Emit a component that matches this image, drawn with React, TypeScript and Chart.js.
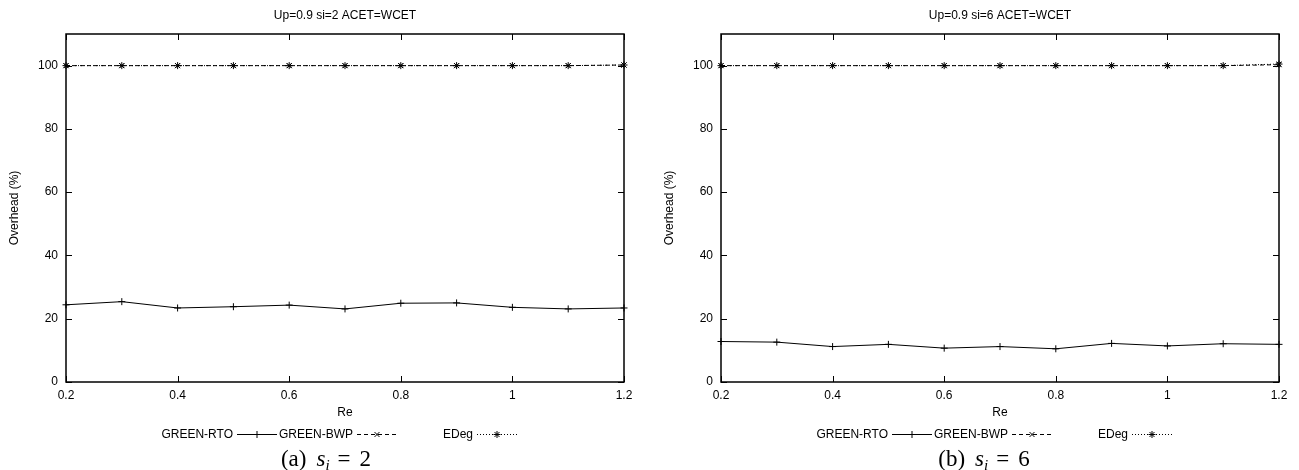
import React, { useEffect, useRef } from "react";
import { Chart, registerables } from "chart.js";

Chart.register(...registerables);

// ---------- data ----------
const reValues = [0.2, 0.3, 0.4, 0.5, 0.6, 0.7, 0.8, 0.9, 1.0, 1.1, 1.2];
const xTicks = [0.2, 0.4, 0.6, 0.8, 1, 1.2];
const xTickLabels = ["0.2", "0.4", "0.6", "0.8", "1", "1.2"];
const yTicks = [0, 20, 40, 60, 80, 100];
const yTickLabels = ["0", "20", "40", "60", "80", "100"];
const seriesNames = ["GREEN-RTO", "GREEN-BWP", "EDeg"];

const titleA = "Up=0.9 si=2 ACET=WCET";
const rtoA = [24.4, 25.4, 23.4, 23.8, 24.3, 23.1, 24.9, 25.0, 23.6, 23.1, 23.4];
const bwpA = [100, 100, 100, 100, 100, 100, 100, 100, 100, 100, 100.2];
const edegA = [100, 100, 100, 100, 100, 100, 100, 100, 100, 100, 100.2];

const titleB = "Up=0.9 si=6 ACET=WCET";
const rtoB = [12.8, 12.6, 11.2, 11.9, 10.7, 11.2, 10.5, 12.2, 11.4, 12.1, 11.9];
const bwpB = [100, 100, 100, 100, 100, 100, 100, 100, 100, 100, 100.3];
const edegB = [100, 100, 100, 100, 100, 100, 100, 100, 100, 100, 100.5];

const FONT = "'Liberation Sans', Arial, Helvetica, sans-serif";

function drawMarker(ctx: CanvasRenderingContext2D, style: string, x: number, y: number, r: number) {
  ctx.beginPath();
  if (style === "cross" || style === "star") {
    ctx.moveTo(x - r, y);
    ctx.lineTo(x + r, y);
    ctx.moveTo(x, y - r);
    ctx.lineTo(x, y + r);
  }
  if (style === "crossRot" || style === "star") {
    const d = r * Math.SQRT1_2;
    ctx.moveTo(x - d, y - d);
    ctx.lineTo(x + d, y + d);
    ctx.moveTo(x - d, y + d);
    ctx.lineTo(x + d, y - d);
  }
  ctx.stroke();
}

const gnuplotPlugin = {
  id: "gnuplotFrame",
  afterDraw(chart: any, _args: any, opts: any) {
    const ctx: CanvasRenderingContext2D = chart.ctx;
    const { left, right, top, bottom } = chart.chartArea;
    const xs = chart.scales.x;
    const ys = chart.scales.y;
    ctx.save();
    ctx.strokeStyle = "#000";
    ctx.lineWidth = 1.5;
    ctx.setLineDash([]);
    ctx.strokeRect(left, top, right - left, bottom - top);
    ctx.lineWidth = 1;
    ctx.beginPath();
    xTicks.forEach((v) => {
      const px = Math.round(xs.getPixelForValue(v)) + 0.5;
      ctx.moveTo(px, bottom);
      ctx.lineTo(px, bottom - 6);
      ctx.moveTo(px, top);
      ctx.lineTo(px, top + 6);
    });
    yTicks.forEach((v) => {
      const py = Math.round(ys.getPixelForValue(v)) + 0.5;
      ctx.moveTo(left, py);
      ctx.lineTo(left + 6, py);
      ctx.moveTo(right, py);
      ctx.lineTo(right - 6, py);
    });
    ctx.stroke();

    // title
    ctx.fillStyle = "#000";
    ctx.font = `12px ${FONT}`;
    ctx.textAlign = "center";
    ctx.textBaseline = "middle";
    ctx.fillText(opts.title, (left + right) / 2, 16);

    // legend (gnuplot style: label then sample)
    const cx = (left + right) / 2;
    const ly = 434.5;
    chart.data.datasets.forEach((ds: any, i: number) => {
      const textEnd = cx - 112 + i * 120;
      ctx.setLineDash([]);
      ctx.textAlign = "right";
      ctx.fillText(ds.label, textEnd, ly);
      ctx.setLineDash(ds.borderDash || []);
      ctx.lineWidth = 1;
      ctx.beginPath();
      ctx.moveTo(textEnd + 4, ly);
      ctx.lineTo(textEnd + 44, ly);
      ctx.stroke();
      ctx.setLineDash([]);
      drawMarker(ctx, ds.pointStyle, textEnd + 24, ly, ds.pointRadius);
    });
    ctx.restore();
  },
};

function makeConfig(title: string, rto: number[], bwp: number[], edeg: number[], yAxisWidth: number, rightPad: number, yTitlePad: number): any {
  const mk = (label: string, data: number[], style: string, dash: number[]) => ({
    label,
    data: reValues.map((x, i) => ({ x, y: data[i] })),
    borderColor: "#000",
    backgroundColor: "#000",
    borderWidth: 1,
    borderDash: dash,
    pointStyle: style,
    pointRadius: 3.5,
    pointBorderWidth: 1,
    pointBorderColor: "#000",
    pointBackgroundColor: "#000",
    fill: false,
    tension: 0,
    clip: false,
  });
  return {
    type: "line",
    data: {
      datasets: [
        mk(seriesNames[0], rto, "cross", []),
        mk(seriesNames[1], bwp, "crossRot", [4, 3]),
        mk(seriesNames[2], edeg, "star", [1, 2]),
      ],
    },
    options: {
      responsive: false,
      animation: false,
      devicePixelRatio: 1,
      layout: { padding: { left: 0, top: 34, right: rightPad, bottom: 0 } },
      plugins: {
        legend: { display: false },
        title: { display: false },
        tooltip: { enabled: false },
        gnuplotFrame: { title },
      },
      scales: {
        x: {
          type: "linear",
          min: 0.2,
          max: 1.2,
          afterBuildTicks: (s: any) => {
            s.ticks = xTicks.map((v) => ({ value: v }));
          },
          afterFit: (s: any) => {
            s.height = 88;
            s.paddingLeft = 0;
            s.paddingRight = 0;
          },
          grid: { display: false, drawTicks: false },
          border: { display: false },
          ticks: {
            color: "#000",
            font: { family: FONT, size: 12 },
            padding: 6,
            maxRotation: 0,
            autoSkip: false,
            callback: (v: number) => {
              const i = xTicks.findIndex((t) => Math.abs(t - v) < 1e-6);
              return i >= 0 ? xTickLabels[i] : "";
            },
          },
          title: {
            display: true,
            text: "Re",
            color: "#000",
            font: { family: FONT, size: 12 },
            padding: { top: 0, bottom: 50 },
          },
        },
        y: {
          type: "linear",
          min: 0,
          max: 110,
          afterBuildTicks: (s: any) => {
            s.ticks = yTicks.map((v) => ({ value: v }));
          },
          afterFit: (s: any) => {
            s.width = yAxisWidth;
          },
          grid: { display: false, drawTicks: false },
          border: { display: false },
          ticks: {
            color: "#000",
            font: { family: FONT, size: 12 },
            padding: 8,
            autoSkip: false,
            callback: (v: number) => {
              const i = yTicks.indexOf(v);
              return i >= 0 ? yTickLabels[i] : "";
            },
          },
          title: {
            display: true,
            text: "Overhead (%)",
            color: "#000",
            font: { family: FONT, size: 12 },
            padding: { top: yTitlePad, bottom: 0 },
          },
        },
      },
    },
    plugins: [gnuplotPlugin],
  };
}

function Panel(props: { left: number; width: number; config: () => any; caption: string; captionVar: string; captionNum: string; captionX: number }) {
  const ref = useRef<HTMLCanvasElement | null>(null);
  useEffect(() => {
    if (!ref.current) return;
    const chart = new Chart(ref.current, props.config());
    return () => chart.destroy();
  }, []);
  return (
    <>
      <canvas
        ref={ref}
        width={props.width}
        height={470}
        style={{ position: "absolute", left: props.left, top: 0, width: props.width, height: 470, display: "block" }}
      />
      <div
        style={{
          position: "absolute",
          left: props.captionX,
          top: 445,
          transform: "translateX(-50%)",
          whiteSpace: "nowrap",
          fontFamily: "'Liberation Serif', 'DejaVu Serif', serif",
          fontSize: 23,
          lineHeight: "28px",
          color: "#000",
        }}
      >
        <span>{props.caption}</span>
        <span style={{ marginLeft: 10 }}>
          <i>{props.captionVar}</i>
          <sub style={{ fontSize: 15, fontStyle: "italic", verticalAlign: "-4px" }}>i</sub>
        </span>
        <span style={{ marginLeft: 8 }}>=</span>
        <span style={{ marginLeft: 9 }}>{props.captionNum}</span>
      </div>
    </>
  );
}

export default function App() {
  return (
    <div style={{ position: "absolute", left: 0, top: 0, width: 1299, height: 470, background: "#fff", overflow: "hidden" }}>
      <Panel
        left={0}
        width={650}
        config={() => makeConfig(titleA, rtoA, bwpA, edegA, 66, 26, 7)}
        caption="(a)"
        captionVar="s"
        captionNum="2"
        captionX={326}
      />
      <Panel
        left={650}
        width={649}
        config={() => makeConfig(titleB, rtoB, bwpB, edegB, 71, 20, 12)}
        caption="(b)"
        captionVar="s"
        captionNum="6"
        captionX={984}
      />
    </div>
  );
}
